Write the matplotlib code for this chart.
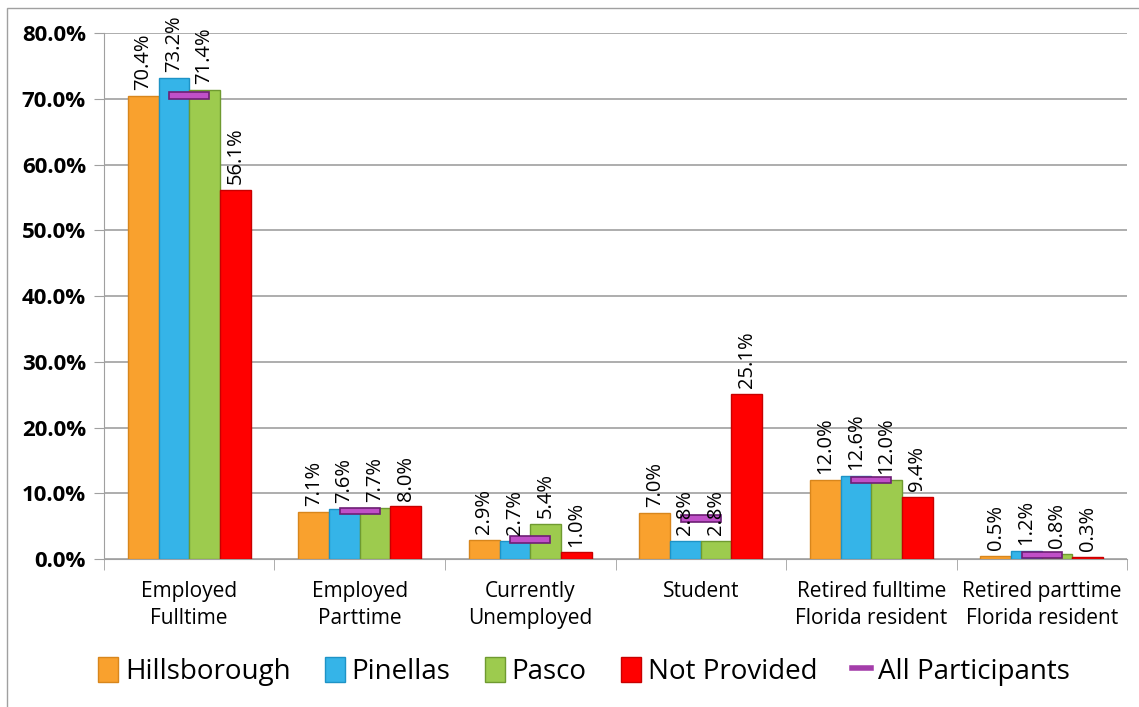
import matplotlib.pyplot as plt
import numpy as np
from matplotlib.patches import Rectangle, Patch
from matplotlib.lines import Line2D

plt.rcParams['font.family'] = ['Open Sans', 'DejaVu Sans']

categories = ['Employed\nFulltime', 'Employed\nParttime', 'Currently\nUnemployed',
              'Student', 'Retired fulltime\nFlorida resident', 'Retired parttime\nFlorida resident']
series_names = ['Hillsborough', 'Pinellas', 'Pasco', 'Not Provided']
hillsborough = [70.4, 7.1, 2.9, 7.0, 12.0, 0.5]
pinellas = [73.2, 7.6, 2.7, 2.8, 12.6, 1.2]
pasco = [71.4, 7.7, 5.4, 2.8, 12.0, 0.8]
not_provided = [56.1, 8.0, 1.0, 25.1, 9.4, 0.3]
all_participants = [70.5, 7.3, 3.0, 6.2, 12.0, 0.6]

colors = ['#F9A12E', '#35B4E8', '#9DCB4E', '#FF0000']
edges = ['#D8861C', '#1E93C6', '#6F9A30', '#C80000']
purple = '#A43DAA'

fig = plt.figure(figsize=(11.39, 7.07), dpi=100)
ax = fig.add_axes([0.0913, 0.2093, 0.8982, 0.744])

# outer chart border
fig.patches.append(Rectangle((7 / 1139, -0.1), 1.2, 1 - 8 / 707 + 0.1, transform=fig.transFigure,
                             fill=False, edgecolor='#A0A0A0', lw=1))

x = np.arange(len(categories))
w = 0.18
data = [hillsborough, pinellas, pasco, not_provided]
for i, vals in enumerate(data):
    pos = x + (i - 1.5) * w
    ax.bar(pos, vals, width=w, color=colors[i], edgecolor=edges[i], linewidth=1, zorder=3)
    for px, v in zip(pos, vals):
        ax.text(px, v + 0.9, f'{v:.1f}%', rotation=90, ha='center', va='bottom',
                fontsize=14.5, zorder=5)

# all participants markers
ax.bar(x, [1.0] * len(x), bottom=np.array(all_participants) - 0.5, width=0.235,
       color='#C050C8', edgecolor='#6E1F75', linewidth=1.2, zorder=4)

ax.set_xlim(-0.5, len(categories) - 0.5)
ax.set_ylim(0, 80)
ax.set_yticks(np.arange(0, 81, 10))
ax.set_yticklabels([f'{t:.1f}%' for t in np.arange(0, 81, 10)], fontweight='bold', fontsize=16)
ax.yaxis.grid(True, color='#A0A0A0', lw=1.2, zorder=0)
ax.set_axisbelow(True)

ax.set_xticks(x)
ax.set_xticklabels(categories, fontsize=15, linespacing=1.35)
ax.tick_params(axis='x', length=0, pad=16)
ax.set_xticks(np.arange(-0.5, len(categories), 1), minor=True)
ax.tick_params(axis='x', which='minor', length=8, color='#A0A0A0')
ax.tick_params(axis='y', length=7, color='#A0A0A0', pad=6)

for s in ['top', 'right']:
    ax.spines[s].set_visible(False)
ax.spines['left'].set_color('#A0A0A0')
ax.spines['bottom'].set_color('#A0A0A0')

handles = [Patch(facecolor=colors[i], edgecolor=edges[i]) for i in range(4)]
handles.append(Line2D([], [], color=purple, lw=4))
fig.legend(handles, series_names + ['All Participants'], loc='center', ncol=5,
           bbox_to_anchor=(0.513, 0.05), frameon=False, fontsize=20,
           handlelength=0.7, handleheight=1.0, handletextpad=0.25, columnspacing=1.25)

fig.savefig('out.png', dpi=100)
